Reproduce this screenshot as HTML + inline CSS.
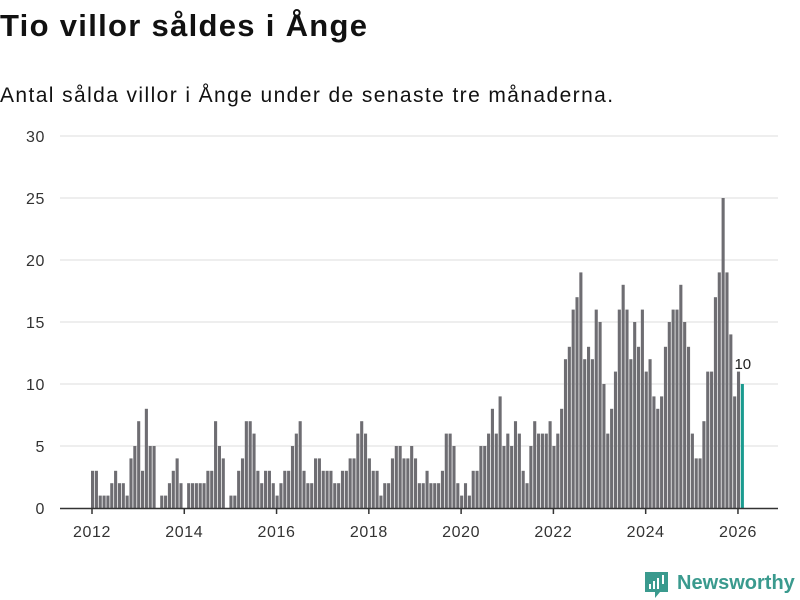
<!DOCTYPE html>
<html><head><meta charset="utf-8">
<style>
body{margin:0;background:#fff;font-family:"Liberation Sans",sans-serif;}
#wrap{position:relative;width:800px;height:600px;overflow:hidden;}
h1{position:absolute;left:0;top:8px;margin:0;font-size:31px;font-weight:bold;color:#111;letter-spacing:1.3px;}
h2{position:absolute;left:0;top:84px;margin:0;font-size:21px;font-weight:normal;color:#111;letter-spacing:1.4px;}
</style></head>
<body>
<div id="wrap">
<h1>Tio villor såldes i Ånge</h1>
<h2>Antal sålda villor i Ånge under de senaste tre månaderna.</h2>
<svg id="chart" width="800" height="600" style="position:absolute;left:0;top:0"></svg>
</div>
<script>
const values = [
3,3,1,1,1,2,3,2,2,1,4,5,
7,3,8,5,5,0,1,1,2,3,4,2,
0,2,2,2,2,2,3,3,7,5,4,0,
1,1,3,4,7,7,6,3,2,3,3,2,
1,2,3,3,5,6,7,3,2,2,4,4,
3,3,3,2,2,3,3,4,4,6,7,6,
4,3,3,1,2,2,4,5,5,4,4,5,
4,2,2,3,2,2,2,3,6,6,5,2,
1,2,1,3,3,5,5,6,8,6,9,5,
6,5,7,6,3,2,5,7,6,6,6,7,
5,6,8,12,13,16,17,19,12,13,12,16,
15,10,6,8,11,16,18,16,12,15,13,16,
11,12,9,8,9,13,15,16,16,18,15,13,
6,4,4,7,11,11,17,19,25,19,14,9,
11,10];
const startYear = 2012;
const yTicks = [0,5,10,15,20,25,30];
const xTickYears = [2012,2014,2016,2018,2020,2022,2024,2026];

const NS="http://www.w3.org/2000/svg";
const svg=document.getElementById('chart');
const y0=508, yTop=136, yMax=30;
const yS=v=>y0-(y0-yTop)*v/yMax;
const x2012=92, perMonth=46.14/12;
const xM=m=>x2012+m*perMonth;
function mk(t,a){const e=document.createElementNS(NS,t);for(const k in a)e.setAttribute(k,a[k]);svg.appendChild(e);return e;}

yTicks.forEach(v=>{
  if(v>0){const g=mk('line',{x1:60,x2:778,y1:yS(v),y2:yS(v),stroke:'#dddddd','stroke-width':1});
  
  }
  const t=mk('text',{x:45,y:yS(v)+6,'text-anchor':'end','font-size':16,fill:'#333','font-family':'Liberation Sans, sans-serif','letter-spacing':0.6});
  t.textContent=v;
  
  
});

values.forEach((v,i)=>{
  const last=i===values.length-1;
  const r=mk('rect',{x:xM(i)-1,y:yS(v),width:3.1,height:y0-yS(v),fill:last?'#1a9b8f':'#6e6d72'});
  
  
});

const ax=mk('line',{x1:60,x2:778,y1:y0+0.5,y2:y0+0.5,stroke:'#333','stroke-width':1.5});



xTickYears.forEach(yr=>{
  const x=xM((yr-startYear)*12);
  const tk=mk('line',{x1:x,x2:x,y1:y0,y2:y0+6,stroke:'#333','stroke-width':1.5});
  
  
  const t=mk('text',{x:x,y:537,'text-anchor':'middle','font-size':16,fill:'#333','font-family':'Liberation Sans, sans-serif','letter-spacing':0.6});
  t.textContent=yr;
  
  
});

const li=values.length-1;
const lbl=mk('text',{x:xM(li)+1,y:yS(values[li])-15,'text-anchor':'middle','font-size':15,fill:'#222','font-family':'Liberation Sans, sans-serif'});
lbl.textContent=values[li];



const g=document.createElementNS(NS,'g');svg.appendChild(g);


const bg=document.createElementNS(NS,'path');
bg.setAttribute('d','M645 572 h23 v20 h-8 l-5 6 v-6 h-10 z');bg.setAttribute('fill','#3a9a8e');g.appendChild(bg);
[[649,584,2,5],[653,581,2,8],[657,578,2,11],[662,575,2,9]].forEach(b=>{const r=document.createElementNS(NS,'rect');r.setAttribute('x',b[0]);r.setAttribute('y',b[1]);r.setAttribute('width',b[2]);r.setAttribute('height',b[3]);r.setAttribute('fill','#fff');g.appendChild(r);});
const lt=document.createElementNS(NS,'text');
lt.setAttribute('x',677);lt.setAttribute('y',589);lt.setAttribute('font-size',20);lt.setAttribute('font-weight','bold');lt.setAttribute('fill','#3a9a8e');lt.setAttribute('font-family','Liberation Sans, sans-serif');
lt.textContent='Newsworthy';g.appendChild(lt);
</script>
</body></html>
